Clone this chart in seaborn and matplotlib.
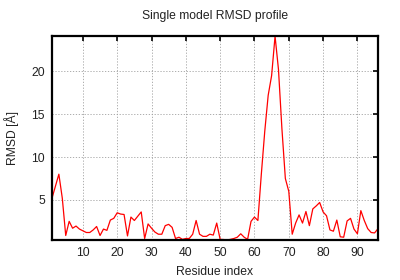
import matplotlib
matplotlib.use("Agg")
import matplotlib.pyplot as plt
import seaborn as sns
import pandas as pd

residues = list(range(1, 97))
rmsd = [5.2, 6.6, 8.0, 5.2, 0.85, 2.5, 1.7, 1.95, 1.6, 1.4,
        1.2, 1.2, 1.5, 1.9, 0.85, 1.6, 1.45, 2.65, 2.85, 3.5,
        3.35, 3.3, 0.8, 3.0, 2.6, 3.1, 3.6, 0.5, 2.2, 1.7,
        1.25, 1.0, 1.0, 2.0, 2.15, 1.8, 0.5, 0.65, 0.4, 0.5,
        0.5, 1.0, 2.6, 1.0, 0.75, 0.75, 1.0, 0.9, 2.3, 0.4,
        0.38, 0.33, 0.4, 0.5, 0.65, 1.05, 0.65, 0.4, 2.5, 3.0,
        2.6, 8.0, 13.0, 17.2, 19.5, 24.1, 20.2, 13.3, 7.5, 6.0,
        1.0, 2.3, 3.25, 2.3, 3.65, 2.0, 3.95, 4.3, 4.7, 3.6,
        3.15, 1.5, 1.35, 2.65, 0.7, 0.65, 2.55, 2.85, 1.6, 1.05,
        3.75, 2.6, 1.65, 1.2, 1.15, 1.65]
x_ticks = [10, 20, 30, 40, 50, 60, 70, 80, 90]
y_ticks = [5, 10, 15, 20]

sns.set_style("white")
plt.rcParams['font.family'] = ['Liberation Sans', 'DejaVu Sans']

df = pd.DataFrame({"Residue index": residues, "RMSD": rmsd})

fig = plt.figure(figsize=(4, 2.8), dpi=100)
ax = fig.add_axes([0.13, 0.143, 0.815, 0.728])
sns.lineplot(data=df, x="Residue index", y="RMSD", ax=ax, color="#ff0000", linewidth=0.9)

ax.set_xlim(min(residues), max(residues))
ax.set_ylim(min(rmsd), max(rmsd))
ax.set_xticks(x_ticks)
ax.set_yticks(y_ticks)
ax.grid(True, color="#a0a0a0", linestyle=(0, (1.5, 2)), linewidth=0.6)
ax.tick_params(direction="in", length=3.5, width=1.2, top=True, right=True,
               labelsize=8.7, pad=5, colors="black", labelcolor="#222222")
for s in ax.spines.values():
    s.set_linewidth(1.6)
    s.set_color("black")
ax.set_title("Single model RMSD profile", fontsize=8.7, pad=12, color="#222222")
ax.set_xlabel("Residue index", fontsize=8.7, labelpad=5, color="#222222")
ax.set_ylabel("RMSD [Å]", fontsize=8.7, labelpad=9, color="#222222")

fig.savefig("out.png", dpi=100)
